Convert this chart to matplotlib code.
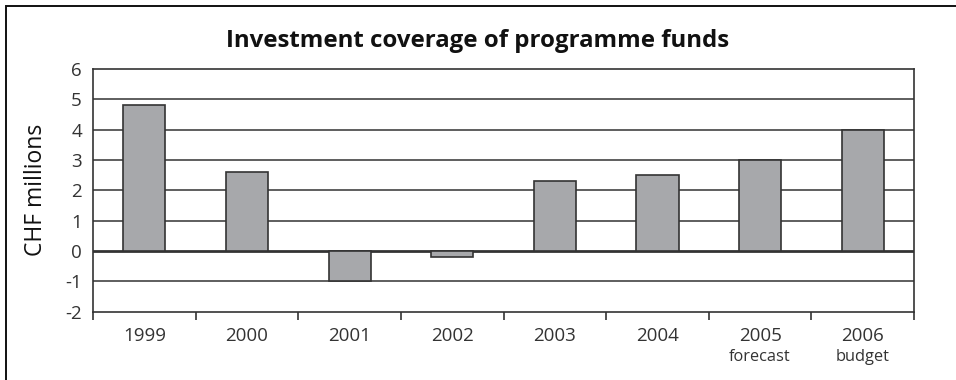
import numpy as np
import matplotlib.pyplot as plt
from matplotlib.patches import Rectangle
from matplotlib.transforms import blended_transform_factory

plt.rcParams['font.family'] = ['Open Sans', 'DejaVu Sans']
plt.rcParams['axes.unicode_minus'] = False

years = ["1999", "2000", "2001", "2002", "2003", "2004", "2005", "2006"]
notes = ["", "", "", "", "", "", "forecast", "budget"]
values = [4.8, 2.6, -1.0, -0.2, 2.3, 2.5, 3.0, 4.0]

ink = "#333333"
bar_grey = "#a7a8ab"

fig = plt.figure(figsize=(9.56, 3.8), dpi=100)
ax = fig.add_axes([0.0973, 0.1797, 0.8588, 0.6387])

x = np.arange(len(years))
ax.bar(x, values, width=0.41, color=bar_grey, edgecolor=ink, linewidth=1.2, zorder=3)

ax.set_xlim(-0.5, len(years) - 0.5)
ax.set_ylim(-2, 6)
ax.set_yticks(np.arange(-2, 7, 1))
ax.tick_params(axis='y', length=0, pad=8, labelsize=13.5, labelcolor=ink)

# horizontal grid, zero line heavier
for y in range(-1, 6):
    ax.axhline(y, color=ink, linewidth=2.0 if y == 0 else 1.1, zorder=1)

# category labels without ticks, boundary ticks below the axis
ax.set_xticks(x)
ax.set_xticklabels(years)
ax.tick_params(axis='x', which='major', length=0, pad=11, labelsize=13.5, labelcolor=ink)
ax.set_xticks(np.arange(-0.5, len(years), 1), minor=True)
ax.tick_params(axis='x', which='minor', length=6, width=1.2, color=ink, direction='out')

trans = blended_transform_factory(ax.transData, ax.transAxes)
for xi, note in zip(x, notes):
    if note:
        ax.text(xi, -0.152, note, transform=trans, ha='center', va='top',
                fontsize=11.8, color=ink)

for s in ax.spines.values():
    s.set_color(ink)
    s.set_linewidth(1.2)

ax.set_ylabel("CHF millions", fontsize=16.5, color="#111111", labelpad=12)
fig.text(0.5, 0.893, "Investment coverage of programme funds", ha='center', va='center',
         fontsize=17.3, fontweight='bold', color="#111111")

# frame around the whole figure
fig.patches.append(Rectangle((6 / 956, -0.05), 1.0, 1.0 - 5.5 / 380 + 0.05, transform=fig.transFigure,
                             fill=False, edgecolor="#111111", linewidth=1.4))

fig.savefig("out.png", dpi=100)
